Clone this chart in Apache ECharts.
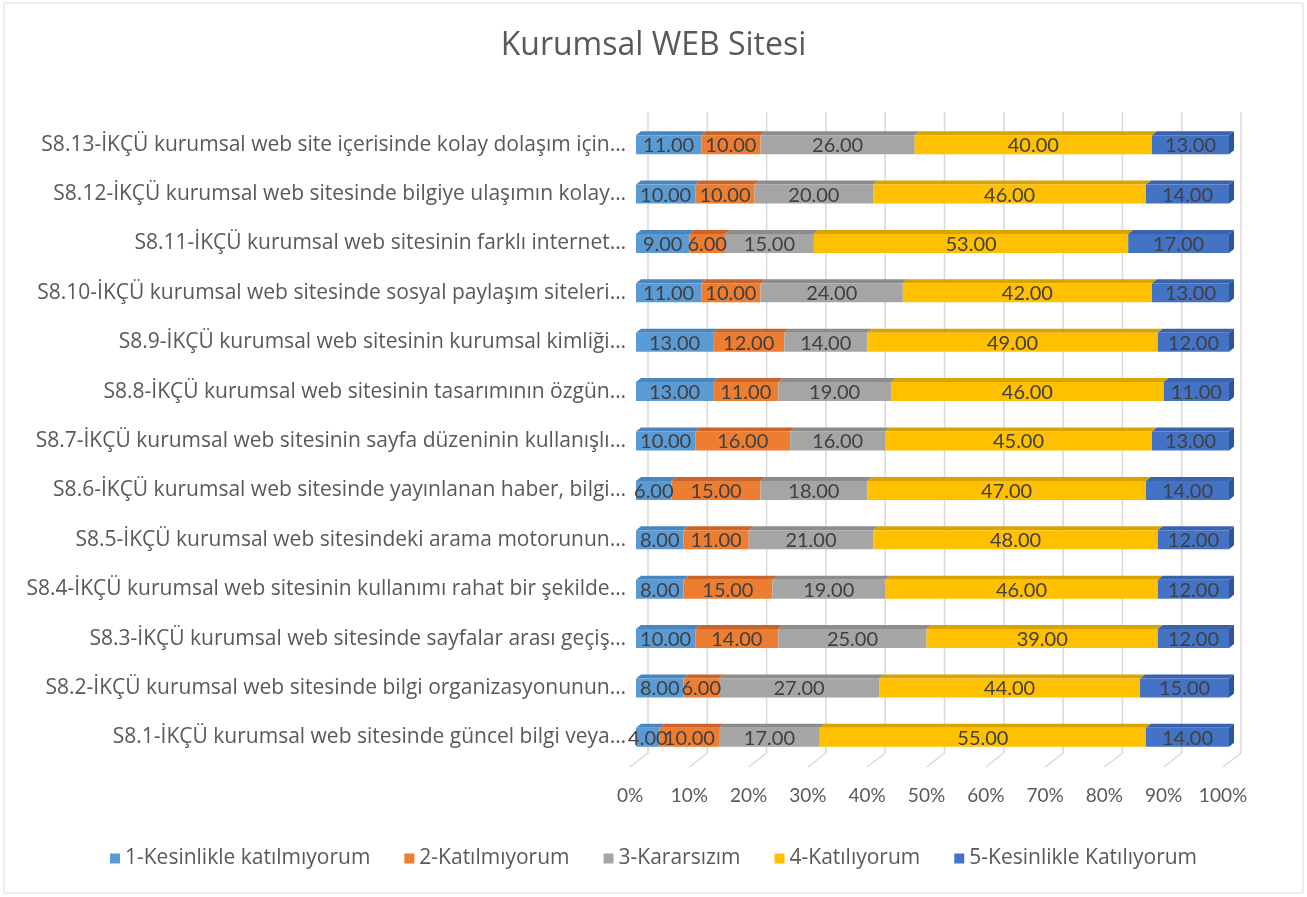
<!DOCTYPE html>
<html>
<head>
<meta charset="utf-8">
<script src="https://cdn.jsdelivr.net/npm/echarts@6/dist/echarts.min.js"></script>
<style>
  html, body { margin: 0; padding: 0; background: #fff; }
  #chart { width: 1307px; height: 897px; }
</style>
</head>
<body>
<div id="chart"></div>
<script>
// sorular (alttan üste)
const categories = [
    'S8.1-İKÇÜ kurumsal web sitesinde güncel bilgi veya…',
    'S8.2-İKÇÜ kurumsal web sitesinde bilgi organizasyonunun…',
    'S8.3-İKÇÜ kurumsal web sitesinde sayfalar arası geçiş…',
    'S8.4-İKÇÜ kurumsal web sitesinin kullanımı rahat bir şekilde…',
    'S8.5-İKÇÜ kurumsal web sitesindeki arama motorunun…',
    'S8.6-İKÇÜ kurumsal web sitesinde yayınlanan haber, bilgi…',
    'S8.7-İKÇÜ kurumsal web sitesinin sayfa düzeninin kullanışlı…',
    'S8.8-İKÇÜ kurumsal web sitesinin tasarımının özgün…',
    'S8.9-İKÇÜ kurumsal web sitesinin kurumsal kimliği…',
    'S8.10-İKÇÜ kurumsal web sitesinde sosyal paylaşım siteleri…',
    'S8.11-İKÇÜ kurumsal web sitesinin farklı internet…',
    'S8.12-İKÇÜ kurumsal web sitesinde bilgiye ulaşımın kolay…',
    'S8.13-İKÇÜ kurumsal web site içerisinde kolay dolaşım için…'
];

const seriesNames = [
    '1-Kesinlikle katılmıyorum',
    '2-Katılmıyorum',
    '3-Kararsızım',
    '4-Katılıyorum',
    '5-Kesinlikle Katılıyorum'
];

const kesinlikleKatilmiyorum = [4, 8, 10, 8, 8, 6, 10, 13, 13, 11, 9, 10, 11];
const katilmiyorum = [10, 6, 14, 15, 11, 15, 16, 11, 12, 10, 6, 10, 10];
const kararsizim = [17, 27, 25, 19, 21, 18, 16, 19, 14, 24, 15, 20, 26];
const katiliyorum = [55, 44, 39, 46, 48, 47, 45, 46, 49, 42, 53, 46, 40];
const kesinlikleKatiliyorum = [14, 15, 12, 12, 12, 14, 13, 11, 12, 13, 17, 14, 13];

const pctTicks = [0, 10, 20, 30, 40, 50, 60, 70, 80, 90, 100];

const values = [kesinlikleKatilmiyorum, katilmiyorum, kararsizim, katiliyorum, kesinlikleKatiliyorum];
const frontColors = ['#5B9BD5', '#ED7D31', '#A5A5A5', '#FFC000', '#4472C4'];
const topColors = ['#4A86BE', '#C9652A', '#8C8C8C', '#D9A300', '#3A63AE'];
const sideColor = '#2F5597';

const FONT = 'Lato, "Open Sans", sans-serif';
const WIDE_FONT = '"Open Sans", "Noto Sans", sans-serif';
const DX = 5, DY = 4, BAR_H = 19;

// yığılmış başlangıç / bitiş değerleri
const cumulative = categories.map(() => 0);
const stacked = values.map(function (arr) {
    return arr.map(function (v, i) {
        const start = cumulative[i];
        cumulative[i] += v;
        return [i, start, cumulative[i], v];
    });
});

function barRenderer(si) {
    return function (params, api) {
        const cat = api.value(0);
        const p0 = api.coord([api.value(1), cat]);
        const p1 = api.coord([api.value(2), cat]);
        const x0 = p0[0], x1 = p1[0];
        const yT = p0[1] - BAR_H / 2, yB = p0[1] + BAR_H / 2;
        const children = [
            {
                type: 'polygon',
                shape: { points: [[x0, yT], [x0 + DX, yT - DY], [x1 + DX, yT - DY], [x1, yT]] },
                style: { fill: topColors[si] }
            },
            {
                type: 'rect',
                shape: { x: x0, y: yT, width: x1 - x0, height: BAR_H },
                style: { fill: frontColors[si] }
            }
        ];
        if (si === values.length - 1) {
            children.push({
                type: 'polygon',
                shape: { points: [[x1, yT], [x1 + DX, yT - DY], [x1 + DX, yB - DY], [x1, yB]] },
                style: { fill: sideColor }
            });
        }
        children.push({
            type: 'text',
            z2: 100,
            style: {
                text: api.value(3).toFixed(2),
                x: (x0 + x1) / 2,
                y: p0[1] + 1,
                align: 'center',
                verticalAlign: 'middle',
                fill: '#404040',
                font: '20px ' + FONT
            }
        });
        return { type: 'group', children: children };
    };
}

// arka duvar ve zemin çizgileri
function gridRenderer(params, api) {
    const v = api.value(0);
    const band = api.size([0, 1])[1];
    const top = api.coord([v, categories.length - 1]);
    const bot = api.coord([v, 0]);
    const yTop = top[1] - band / 2 - 8;
    const yBack = bot[1] + band / 2 - 9;
    const yFront = bot[1] + band / 2 + 5;
    return {
        type: 'polyline',
        shape: { points: [[top[0] + 12, yTop], [top[0] + 12, yBack], [top[0] - 6, yFront]] },
        style: { stroke: '#D9D9D9', lineWidth: 1.5, fill: null }
    };
}

const series = [{
    type: 'custom',
    name: 'grid',
    z: 1,
    silent: true,
    renderItem: gridRenderer,
    encode: { x: 0, y: 1 },
    data: pctTicks.map(t => [t, 0])
}];
values.forEach(function (arr, si) {
    series.push({
        type: 'custom',
        name: seriesNames[si],
        z: 2,
        itemStyle: { color: frontColors[si] },
        renderItem: barRenderer(si),
        encode: { x: [1, 2], y: 0 },
        data: stacked[si]
    });
});

const chart = echarts.init(document.getElementById('chart'));
chart.setOption({
    backgroundColor: '#fff',
    animation: false,
    color: frontColors,
    textStyle: { fontFamily: FONT },
    title: {
        text: 'Kurumsal WEB Sitesi',
        left: 'center',
        top: 25,
        textStyle: { fontFamily: WIDE_FONT, fontSize: 32, fontWeight: 'normal', color: '#595959' }
    },
    legend: {
        data: seriesNames,
        bottom: 23,
        left: 'center',
        icon: 'rect',
        itemWidth: 10,
        itemHeight: 10,
        itemGap: 34,
        textStyle: { fontFamily: WIDE_FONT, fontSize: 21, color: '#595959' }
    },
    graphic: [{
        type: 'rect',
        shape: { x: 4, y: 3, width: 1299, height: 890 },
        style: { fill: null, stroke: '#D9D9D9', lineWidth: 1 },
        silent: true
    }],
    grid: { left: 636, right: 78, top: 120, bottom: 135 },
    xAxis: {
        type: 'value',
        min: 0,
        max: 100,
        interval: 10,
        axisLine: { show: false },
        axisTick: { show: false },
        splitLine: { show: false },
        axisLabel: {
            formatter: '{value}%',
            margin: 24,
            padding: [0, 12, 0, 0],
            fontFamily: FONT,
            fontSize: 19,
            color: '#595959'
        }
    },
    yAxis: {
        type: 'category',
        data: categories,
        axisLine: { show: false },
        axisTick: { show: false },
        axisLabel: {
            margin: 10,
            fontFamily: WIDE_FONT,
            fontSize: 21,
            color: '#595959'
        }
    },
    series: series
});
</script>
</body>
</html>
